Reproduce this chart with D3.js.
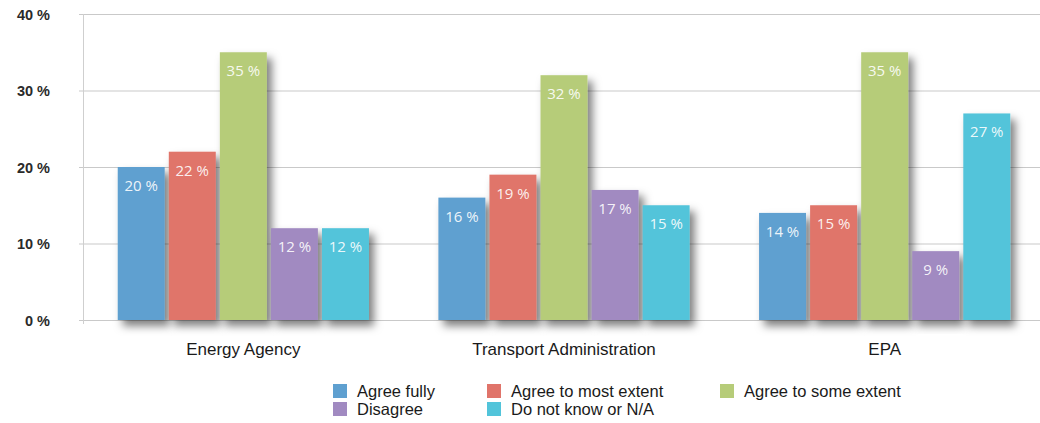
<!DOCTYPE html>
<html>
<head>
<meta charset="utf-8">
<script src="https://cdn.jsdelivr.net/npm/d3@7"></script>
<style>
  html, body { margin: 0; padding: 0; background: #fff; }
  svg { display: block; }
</style>
</head>
<body>
<svg id="chart" width="1040" height="423"></svg>
<script>
// Survey answers per agency, in percent
const agencies = ["Energy Agency", "Transport Administration", "EPA"];
const answers = ["Agree fully", "Agree to most extent", "Agree to some extent", "Disagree", "Do not know or N/A"];
const agreeFully = [20, 16, 14];
const agreeMost = [22, 19, 15];
const agreeSome = [35, 32, 35];
const disagree = [12, 17, 9];
const dontKnow = [12, 15, 27];
const yTicks = [0, 10, 20, 30, 40];
const colors = ["#5fa0d0", "#e0746a", "#b6cc79", "#a18ac1", "#52c4da"];

const seriesValues = [agreeFully, agreeMost, agreeSome, disagree, dontKnow];

const svg = d3.select("#chart");
const W = 1040, H = 423;
const plot = { left: 83, right: 1045, top: 14, bottom: 320 };

const x0 = d3.scaleBand().domain(agencies).range([plot.left, plot.right]);
const x1 = d3.scaleBand().domain(answers).range([0, x0.bandwidth()])
  .paddingInner(0.08).paddingOuter(0.68);
const y = d3.scaleLinear().domain([0, 40]).range([plot.bottom, plot.top]);

// Soft drop shadow under the bars
const defs = svg.append("defs");
const f = defs.append("filter").attr("id", "shadow")
  .attr("x", "-30%").attr("y", "-10%").attr("width", "170%").attr("height", "130%");
f.append("feDropShadow").attr("dx", 5).attr("dy", 6).attr("stdDeviation", 4)
  .attr("flood-color", "#000").attr("flood-opacity", 0.5);

// Horizontal grid lines
svg.append("g").selectAll("line").data(yTicks).join("line")
  .attr("x1", plot.left - 4).attr("x2", W)
  .attr("y1", d => y(d) + 0.5).attr("y2", d => y(d) + 0.5)
  .attr("stroke", "#c9c9c9").attr("stroke-width", 1);

// Vertical axis line
svg.append("line")
  .attr("x1", plot.left + 0.5).attr("x2", plot.left + 0.5)
  .attr("y1", plot.top).attr("y2", plot.bottom + 4)
  .attr("stroke", "#cfcfcf");

// Y axis labels
const yAxis = d3.axisLeft(y).tickValues(yTicks).tickSize(0).tickFormat(d => d + " %");
const gy = svg.append("g").attr("transform", `translate(${plot.left - 30},0)`).call(yAxis);
gy.select(".domain").remove();
gy.selectAll("text")
  .attr("font-family", "Liberation Sans, Arial, sans-serif")
  .attr("font-size", 14.5).attr("font-weight", "bold").attr("fill", "#2a2a2a")
  .attr("dy", "0.35em");

// X axis labels
const xAxis = d3.axisBottom(x0).tickSize(0);
const gx = svg.append("g").attr("transform", `translate(0,${plot.bottom})`).call(xAxis);
gx.select(".domain").remove();
gx.selectAll("text")
  .attr("font-family", "Liberation Sans, Arial, sans-serif")
  .attr("font-size", 17).attr("fill", "#1a1a1a").attr("y", 23);

// Bars
const groups = svg.append("g").selectAll("g").data(agencies).join("g")
  .attr("transform", d => `translate(${x0(d)},0)`);

const cells = groups.selectAll("g.bar")
  .data((d, i) => answers.map((a, k) => ({ answer: a, value: seriesValues[k][i], k })))
  .join("g").attr("class", "bar");

cells.append("rect")
  .attr("x", d => x1(d.answer))
  .attr("y", d => y(d.value))
  .attr("width", x1.bandwidth())
  .attr("height", d => y(0) - y(d.value))
  .attr("fill", d => colors[d.k])
  .attr("filter", "url(#shadow)");

cells.append("text")
  .attr("x", d => x1(d.answer) + x1.bandwidth() / 2)
  .attr("y", d => y(d.value) + 24)
  .attr("text-anchor", "middle")
  .attr("font-family", "Open Sans, sans-serif")
  .attr("font-size", 15)
  .attr("fill", "#fff").attr("fill-opacity", 0.9)
  .text(d => d.value + " %");

// Legend
const legendPos = [
  { x: 333, y: 384 }, { x: 487, y: 384 }, { x: 720, y: 384 },
  { x: 333, y: 402 }, { x: 487, y: 402 }
];
const leg = svg.append("g").selectAll("g").data(answers).join("g")
  .attr("transform", (d, i) => `translate(${legendPos[i].x},${legendPos[i].y})`);
leg.append("rect").attr("width", 14).attr("height", 14)
  .attr("fill", (d, i) => colors[i]);
leg.append("text").attr("x", 24).attr("y", 13)
  .attr("font-family", "Liberation Sans, Arial, sans-serif")
  .attr("font-size", 16.5).attr("fill", "#1a1a1a")
  .text(d => d);
</script>
</body>
</html>
